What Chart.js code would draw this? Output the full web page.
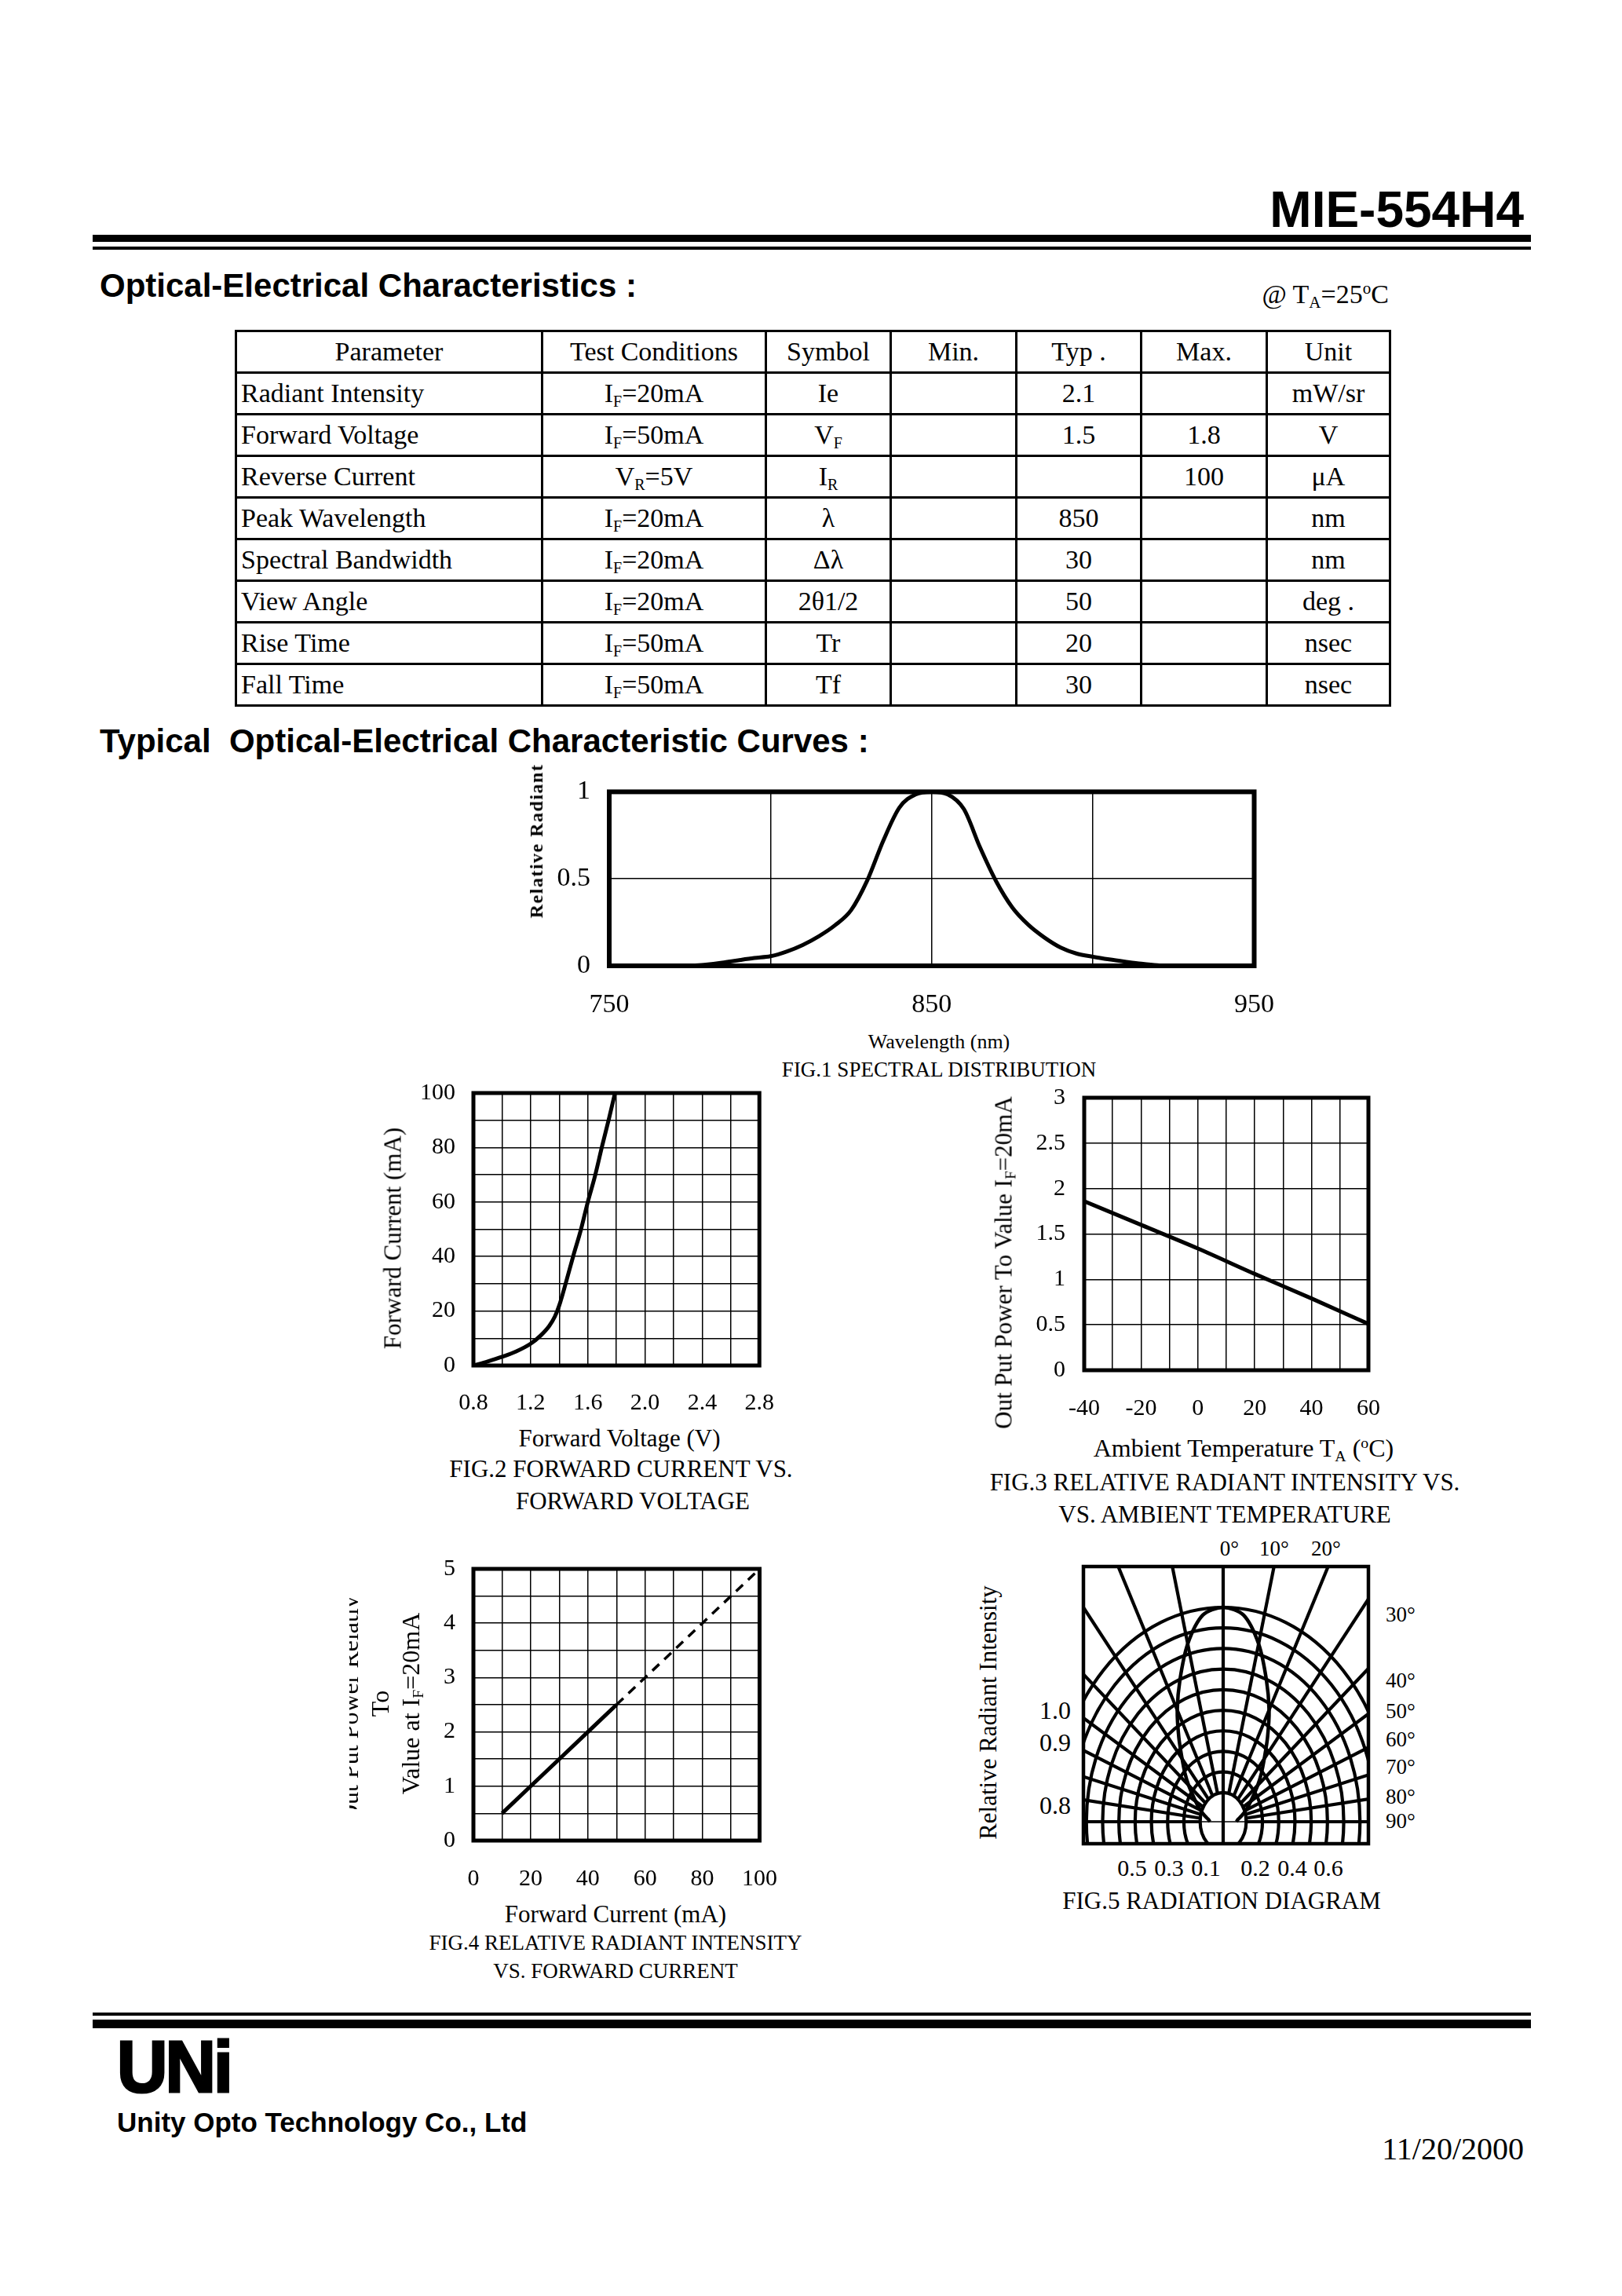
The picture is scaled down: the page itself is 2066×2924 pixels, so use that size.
<!DOCTYPE html>
<html>
<head>
<meta charset="utf-8">
<title>MIE-554H4</title>
<script src="https://cdn.jsdelivr.net/npm/chart.js@4.4.0/dist/chart.umd.min.js"></script>
<style>
body{margin:0;background:#fff;}
#page{position:relative;width:2066px;height:2924px;overflow:hidden;font-family:'Liberation Serif','Times New Roman',serif;color:#000;background:#fff;}
.t{position:absolute;white-space:nowrap;line-height:1;transform:translate(-50%,-50%);}
.t.l{transform:translate(0,-50%);}
.t.r{transform:translate(-100%,-50%);}
.t.rot{transform:translate(-50%,-50%) rotate(-90deg);}
.sans{font-family:'Liberation Sans',Arial,sans-serif;font-weight:bold;}
.bar{position:absolute;background:#000;}
canvas{position:absolute;}
sub{font-size:62%;vertical-align:-0.28em;line-height:0;}
sup{font-size:62%;vertical-align:0.55em;line-height:0;}
#spec{position:absolute;left:299px;top:420px;width:1470px;border-collapse:collapse;table-layout:fixed;font-size:34px;line-height:1;}
#spec td{border:3px solid #000;padding:0;text-align:center;white-space:nowrap;}
#spec tr{height:53px;}
#spec td:first-child{text-align:left;padding-left:5px;}
#spec tr:first-child td:first-child{text-align:center;padding-left:0;}
#spec sub{font-size:20px;}
#f4y{position:absolute;left:445px;top:2034px;width:110px;height:270px;overflow:hidden;}
#f4y div{position:absolute;left:-126px;top:77px;width:330px;height:117px;line-height:39px;font-size:32px;text-align:center;transform:rotate(-90deg);white-space:nowrap;}
#logo{left:149px;top:2632px;font-size:92px;letter-spacing:-3px;-webkit-text-stroke:3px #000;transform:translate(0,-50%) scaleX(0.97);transform-origin:left center;}
</style>
</head>
<body>
<div id="page">
  <div class="t r sans" style="left:1941px;top:267px;font-size:64px">MIE-554H4</div>
  <div class="bar" style="left:118px;top:299px;width:1832px;height:9px"></div>
  <div class="bar" style="left:118px;top:314px;width:1832px;height:4px"></div>

  <div class="t l sans" style="left:127px;top:364px;font-size:42px">Optical-Electrical Characteristics :</div>
  <div class="t r" style="left:1769px;top:375px;font-size:34px">@ T<sub>A</sub>=25<sup>o</sup>C</div>

  <table id="spec">
    <colgroup><col style="width:390px"><col style="width:285px"><col style="width:159px"><col style="width:160px"><col style="width:159px"><col style="width:160px"><col style="width:157px"></colgroup>
    <tr><td>Parameter</td><td>Test Conditions</td><td>Symbol</td><td>Min.</td><td>Typ .</td><td>Max.</td><td>Unit</td></tr>
    <tr><td>Radiant Intensity</td><td>I<sub>F</sub>=20mA</td><td>Ie</td><td></td><td>2.1</td><td></td><td>mW/sr</td></tr>
    <tr><td>Forward Voltage</td><td>I<sub>F</sub>=50mA</td><td>V<sub>F</sub></td><td></td><td>1.5</td><td>1.8</td><td>V</td></tr>
    <tr><td>Reverse Current</td><td>V<sub>R</sub>=5V</td><td>I<sub>R</sub></td><td></td><td></td><td>100</td><td>&mu;A</td></tr>
    <tr><td>Peak Wavelength</td><td>I<sub>F</sub>=20mA</td><td>&lambda;</td><td></td><td>850</td><td></td><td>nm</td></tr>
    <tr><td>Spectral Bandwidth</td><td>I<sub>F</sub>=20mA</td><td>&Delta;&lambda;</td><td></td><td>30</td><td></td><td>nm</td></tr>
    <tr><td>View Angle</td><td>I<sub>F</sub>=20mA</td><td>2&theta;1/2</td><td></td><td>50</td><td></td><td>deg .</td></tr>
    <tr><td>Rise Time</td><td>I<sub>F</sub>=50mA</td><td>Tr</td><td></td><td>20</td><td></td><td>nsec</td></tr>
    <tr><td>Fall Time</td><td>I<sub>F</sub>=50mA</td><td>Tf</td><td></td><td>30</td><td></td><td>nsec</td></tr>
  </table>

  <div class="t l sans" style="left:127px;top:944px;font-size:42px">Typical&nbsp; Optical-Electrical Characteristic Curves :</div>

  <!-- FIG.1 -->
  <canvas id="fig1"></canvas>
  <div class="t rot" style="left:683px;top:1071px;font-size:24px;font-weight:bold;letter-spacing:1.5px">Relative Radiant</div>
  <div class="t" style="left:1196px;top:1327px;font-size:26px">Wavelength (nm)</div>
  <div class="t" style="left:1196px;top:1362px;font-size:27px">FIG.1 SPECTRAL DISTRIBUTION</div>

  <!-- FIG.2 -->
  <canvas id="fig2"></canvas>
  <div class="t rot" style="left:500px;top:1577px;font-size:31px">Forward Current (mA)</div>
  <div class="t" style="left:789px;top:1831px;font-size:31px">Forward Voltage (V)</div>
  <div class="t" style="left:791px;top:1870px;font-size:31px">FIG.2 FORWARD CURRENT VS.</div>
  <div class="t" style="left:806px;top:1911px;font-size:31px">FORWARD VOLTAGE</div>

  <!-- FIG.3 -->
  <canvas id="fig3"></canvas>
  <div class="t rot" style="left:1278px;top:1608px;font-size:31px">Out Put Power To Value I<sub>F</sub>=20mA</div>
  <div class="t" style="left:1584px;top:1844px;font-size:32px">Ambient Temperature T<sub>A</sub> (<sup>o</sup>C)</div>
  <div class="t" style="left:1560px;top:1887px;font-size:31px">FIG.3 RELATIVE RADIANT INTENSITY VS.</div>
  <div class="t" style="left:1560px;top:1928px;font-size:31px">VS. AMBIENT TEMPERATURE</div>

  <!-- FIG.4 -->
  <canvas id="fig4"></canvas>
  <div id="f4y"><div>Out Put Power Relative<br>To<br>Value at I<sub>F</sub>=20mA</div></div>
  <div class="t" style="left:784px;top:2437px;font-size:31px">Forward Current (mA)</div>
  <div class="t" style="left:784px;top:2474px;font-size:27px">FIG.4 RELATIVE RADIANT INTENSITY</div>
  <div class="t" style="left:784px;top:2510px;font-size:27px">VS. FORWARD CURRENT</div>

  <!-- FIG.5 -->
  <canvas id="fig5"></canvas>
  <div class="t" style="left:1566px;top:1972px;font-size:27px">0&deg;</div>
  <div class="t" style="left:1623px;top:1972px;font-size:27px">10&deg;</div>
  <div class="t" style="left:1689px;top:1972px;font-size:27px">20&deg;</div>
  <div class="t l" style="left:1765px;top:2056px;font-size:27px">30&deg;</div>
  <div class="t l" style="left:1765px;top:2140px;font-size:27px">40&deg;</div>
  <div class="t l" style="left:1765px;top:2179px;font-size:27px">50&deg;</div>
  <div class="t l" style="left:1765px;top:2215px;font-size:27px">60&deg;</div>
  <div class="t l" style="left:1765px;top:2250px;font-size:27px">70&deg;</div>
  <div class="t l" style="left:1765px;top:2288px;font-size:27px">80&deg;</div>
  <div class="t l" style="left:1765px;top:2319px;font-size:27px">90&deg;</div>
  <div class="t r" style="left:1364px;top:2178px;font-size:32px">1.0</div>
  <div class="t r" style="left:1364px;top:2219px;font-size:32px">0.9</div>
  <div class="t r" style="left:1364px;top:2299px;font-size:32px">0.8</div>
  <div class="t" style="left:1442px;top:2379px;font-size:30px">0.5</div>
  <div class="t" style="left:1489px;top:2379px;font-size:30px">0.3</div>
  <div class="t" style="left:1536px;top:2379px;font-size:30px">0.1</div>
  <div class="t" style="left:1599px;top:2379px;font-size:30px">0.2</div>
  <div class="t" style="left:1646px;top:2379px;font-size:30px">0.4</div>
  <div class="t" style="left:1692px;top:2379px;font-size:30px">0.6</div>
  <div class="t rot" style="left:1258px;top:2181px;font-size:31px">Relative Radiant Intensity</div>
  <div class="t" style="left:1556px;top:2420px;font-size:31px">FIG.5 RADIATION DIAGRAM</div>

  <!-- footer -->
  <div class="bar" style="left:118px;top:2563px;width:1832px;height:4px"></div>
  <div class="bar" style="left:118px;top:2572px;width:1832px;height:11px"></div>
  <div id="logo" class="t l sans">UNi</div>
  <div class="t l sans" style="left:149px;top:2702px;font-size:35px">Unity Opto Technology Co., Ltd</div>
  <div class="t r" style="left:1941px;top:2737px;font-size:40px">11/20/2000</div>
</div>

<script>
// FIG.1 spectral distribution
const fig1Wavelength = [775, 780, 785, 790, 795, 800, 805, 810, 815, 820, 825, 830, 835, 840, 845, 850,
                        855, 860, 865, 870, 875, 880, 885, 890, 895, 900, 905, 910, 915, 920, 925];
const fig1Relative = [0, 0.007, 0.018, 0.032, 0.045, 0.055, 0.082, 0.12, 0.17, 0.233, 0.32, 0.49, 0.72, 0.91, 0.985, 1.0,
                      0.985, 0.9, 0.68, 0.485, 0.335, 0.235, 0.162, 0.105, 0.07, 0.052, 0.037, 0.024, 0.012, 0.003, 0];
const fig1XTicks = ['750', '850', '950'];
const fig1YTicks = ['0', '0.5', '1'];

// FIG.2 forward current vs forward voltage
const fig2Voltage = [0.8, 0.9, 1.0, 1.1, 1.2, 1.27, 1.33, 1.37, 1.4, 1.45, 1.5, 1.55, 1.6, 1.65, 1.7, 1.75, 1.79];
const fig2Current = [0, 1.5, 3.2, 5.2, 8, 11, 14.5, 18, 22, 31, 40.5, 49.5, 60, 69.5, 80.5, 91, 100];
const fig2XTicks = ['0.8', '1.2', '1.6', '2.0', '2.4', '2.8'];
const fig2YTicks = ['0', '20', '40', '60', '80', '100'];

// FIG.3 relative intensity vs ambient temperature
const fig3Temp = [-40, -20, 0, 20, 40, 60];
const fig3Power = [1.86, 1.6, 1.34, 1.06, 0.79, 0.51];
const fig3XTicks = ['-40', '-20', '0', '20', '40', '60'];
const fig3YTicks = ['0', '0.5', '1', '1.5', '2', '2.5', '3'];

// FIG.4 relative intensity vs forward current (solid = measured, dashed = extension)
const fig4CurrentSolid = [10, 20, 30, 40, 50];
const fig4PowerSolid = [0.5, 1.0, 1.5, 2.0, 2.5];
const fig4CurrentDash = [50, 60, 70, 80, 90, 100];
const fig4PowerDash = [2.5, 3.0, 3.5, 4.0, 4.5, 5.0];
const fig4XTicks = ['0', '20', '40', '60', '80', '100'];
const fig4YTicks = ['0', '1', '2', '3', '4', '5'];

// FIG.5 radiation diagram (angle in degrees, relative intensity)
const fig5Angle = [0, 5, 10, 15, 20, 25, 30, 35, 40, 50, 60, 70, 80, 90];
const fig5Intensity = [1.0, 0.97, 0.85, 0.70, 0.57, 0.45, 0.355, 0.29, 0.235, 0.155, 0.11, 0.075, 0.05, 0.04];
const fig5Rings = [0.1, 0.2, 0.3, 0.4, 0.5, 0.6, 0.7, 0.8, 0.9, 1.0];
const fig5Spokes = [0, 10, 20, 30, 40, 50, 60, 70, 80, 90];

const PAD = {l: 90, r: 40, t: 26, b: 70};

function pairs(xs, ys) {
    return xs.map(function (x, i) { return {x: x, y: ys[i]}; });
}

function fmt(v, digits) {
    return digits == null ? String(+v.toFixed(3)) : v.toFixed(digits);
}

function pickLabel(list, digits) {
    return function (v) {
        var s = fmt(v, digits);
        return list.indexOf(s) >= 0 ? s : '';
    };
}

function placeCanvas(id, box, pad) {
    var c = document.getElementById(id);
    c.width = pad.l + box.w + pad.r;
    c.height = pad.t + box.h + pad.b;
    c.style.left = (box.l - pad.l) + 'px';
    c.style.top = (box.t - pad.t) + 'px';
    c.style.width = c.width + 'px';
    c.style.height = c.height + 'px';
    return c;
}

// grow the canvas until the plot area has the wanted size, then shift it onto the box
function alignChart(chart, box) {
    for (var k = 0; k < 3; k++) {
        var a = chart.chartArea;
        var dw = box.w - (a.right - a.left), dh = box.h - (a.bottom - a.top);
        if (Math.abs(dw) < 0.5 && Math.abs(dh) < 0.5) break;
        chart.resize(Math.round(chart.width + dw), Math.round(chart.height + dh));
    }
    var b = chart.chartArea;
    chart.canvas.style.left = (box.l - b.left) + 'px';
    chart.canvas.style.top = (box.t - b.top) + 'px';
}

// thick frame round the plot area
var framePlugin = {
    id: 'frame',
    afterDatasetsDraw: function (chart, args, opts) {
        var a = chart.chartArea, ctx = chart.ctx;
        ctx.save();
        ctx.lineWidth = opts.width || 5;
        ctx.strokeStyle = '#000';
        ctx.strokeRect(a.left, a.top, a.right - a.left, a.bottom - a.top);
        ctx.restore();
    }
};

function gridChart(id, box, o) {
    var c = placeCanvas(id, box, PAD);
    var chart = new Chart(c, {
        type: 'line',
        data: {datasets: o.datasets},
        options: {
            responsive: false,
            maintainAspectRatio: false,
            animation: false,
            devicePixelRatio: 1,
            layout: {padding: {top: PAD.t, right: PAD.r, left: 0, bottom: 0}},
            plugins: {legend: {display: false}, tooltip: {enabled: false}, frame: {width: o.frame}},
            elements: {point: {radius: 0}},
            scales: {
                x: {
                    type: 'linear', min: o.x[0], max: o.x[1],
                    ticks: {stepSize: o.x[2], padding: o.xPad, font: {size: o.font}, maxRotation: 0, autoSkip: false,
                            color: '#000', callback: pickLabel(o.xLabels, o.xDigits)},
                    grid: {color: '#000', lineWidth: o.grid, drawTicks: false},
                    border: {display: false},
                    afterFit: function (s) { s.height = PAD.b; }
                },
                y: {
                    type: 'linear', min: o.y[0], max: o.y[1],
                    ticks: {stepSize: o.y[2], padding: o.yPad, font: {size: o.font}, autoSkip: false,
                            color: '#000', callback: pickLabel(o.yLabels, null)},
                    grid: {color: '#000', lineWidth: o.grid, drawTicks: false},
                    border: {display: false},
                    afterFit: function (s) { s.width = PAD.l; }
                }
            }
        },
        plugins: [framePlugin]
    });
    alignChart(chart, box);
    return chart;
}

Chart.defaults.font.family = "'Liberation Serif','Times New Roman',serif";
Chart.defaults.color = '#000';

gridChart('fig1', {l: 776, t: 1008, w: 821, h: 222}, {
    x: [750, 950, 50], y: [0, 1, 0.5], xLabels: fig1XTicks, yLabels: fig1YTicks, xDigits: null,
    font: 34, xPad: 30, yPad: 24, grid: 1.5, frame: 6,
    datasets: [{data: pairs(fig1Wavelength, fig1Relative), borderColor: '#000', borderWidth: 5,
                cubicInterpolationMode: 'monotone', fill: false}]
});

gridChart('fig2', {l: 603, t: 1392, w: 364, h: 347}, {
    x: [0.8, 2.8, 0.2], y: [0, 100, 10], xLabels: fig2XTicks, yLabels: fig2YTicks, xDigits: 1,
    font: 30, xPad: 30, yPad: 23, grid: 1.5, frame: 5,
    datasets: [{data: pairs(fig2Voltage, fig2Current), borderColor: '#000', borderWidth: 5,
                cubicInterpolationMode: 'monotone', fill: false}]
});

gridChart('fig3', {l: 1381, t: 1398, w: 362, h: 347}, {
    x: [-40, 60, 10], y: [0, 3, 0.5], xLabels: fig3XTicks, yLabels: fig3YTicks, xDigits: null,
    font: 30, xPad: 31, yPad: 24, grid: 1.5, frame: 5,
    datasets: [{data: pairs(fig3Temp, fig3Power), borderColor: '#000', borderWidth: 5,
                cubicInterpolationMode: 'monotone', fill: false}]
});

gridChart('fig4', {l: 603, t: 1998, w: 364, h: 346}, {
    x: [0, 100, 10], y: [0, 5, 0.5], xLabels: fig4XTicks, yLabels: fig4YTicks, xDigits: null,
    font: 30, xPad: 31, yPad: 23, grid: 1.5, frame: 5,
    datasets: [
        {data: pairs(fig4CurrentSolid, fig4PowerSolid), borderColor: '#000', borderWidth: 5, fill: false},
        {data: pairs(fig4CurrentDash, fig4PowerDash), borderColor: '#000', borderWidth: 3.5, borderDash: [12, 9], fill: false}
    ]
});

// ---- FIG.5 radiation diagram ----
// rings are drawn a bit narrower than tall and spokes a bit wider, as in the printed sheet
var RING_BASE = 0.04, RING_STEP = 0.96, ELL = 0.79, SPREAD = 1.13;

function ringRadius(level) { return RING_BASE + RING_STEP * level; }
function spokeAngle(deg) {
    return deg >= 90 ? Math.PI / 2 : Math.atan(SPREAD * Math.tan(deg * Math.PI / 180));
}
function ellipseDist(r, phi) {
    var s = Math.sin(phi) / ELL, c = Math.cos(phi);
    return r / Math.sqrt(s * s + c * c);
}
function lobePoint(deg, level) {
    var phi = spokeAngle(Math.abs(deg)) * (deg < 0 ? -1 : 1);
    var d = ellipseDist(ringRadius(level), phi);
    return {x: d * Math.sin(phi), y: d * Math.cos(phi)};
}

var lobe = [];
for (var i = fig5Angle.length - 1; i > 0; i--) lobe.push(lobePoint(-fig5Angle[i], fig5Intensity[i]));
for (var j = 0; j < fig5Angle.length; j++) lobe.push(lobePoint(fig5Angle[j], fig5Intensity[j]));

var polarGrid = {
    id: 'polarGrid',
    beforeDatasetsDraw: function (chart) {
        var ctx = chart.ctx, a = chart.chartArea, sx = chart.scales.x, sy = chart.scales.y;
        var ox = sx.getPixelForValue(0), oy = sy.getPixelForValue(0);
        var unit = oy - sy.getPixelForValue(1);
        ctx.save();
        ctx.beginPath();
        ctx.rect(a.left, a.top, a.right - a.left, a.bottom - a.top);
        ctx.clip();
        ctx.strokeStyle = '#000';
        ctx.lineWidth = 4.2;
        fig5Rings.forEach(function (lv) {
            var r = ringRadius(lv) * unit;
            ctx.beginPath();
            ctx.ellipse(ox, oy, r * ELL, r, 0, 0, 2 * Math.PI);
            ctx.stroke();
        });
        var r0 = ringRadius(fig5Rings[0]);
        fig5Spokes.forEach(function (deg) {
            [-1, 1].forEach(function (sgn) {
                if (deg === 0 && sgn < 0) return;
                var phi = spokeAngle(deg) * sgn;
                var s = Math.sin(phi), c = Math.cos(phi);
                var d0 = deg === 0 ? -1 : ellipseDist(r0, phi);
                ctx.beginPath();
                ctx.moveTo(ox + s * d0 * unit, oy - c * d0 * unit);
                ctx.lineTo(ox + s * 3 * unit, oy - c * 3 * unit);
                ctx.stroke();
            });
        });
        // thin cross-bar inside the LED outline
        var dh = ellipseDist(r0, Math.PI / 2) * unit;
        ctx.lineWidth = 1.5;
        ctx.beginPath();
        ctx.moveTo(ox - dh, oy);
        ctx.lineTo(ox + dh, oy);
        ctx.stroke();
        ctx.restore();
    }
};

(function () {
    var R = 273, left = 178, right = 185, up = 325, down = 28;
    var box5 = {l: 1380, t: 1995, w: left + right, h: up + down};
    var c = placeCanvas('fig5', box5, {l: 4, r: 4, t: 4, b: 4});
    var chart = new Chart(c, {
        type: 'scatter',
        data: {datasets: [{data: lobe, showLine: true, borderColor: '#000', borderWidth: 4.5, tension: 0.3,
                           pointRadius: 0, fill: false}]},
        options: {
            responsive: false, maintainAspectRatio: false, animation: false, devicePixelRatio: 1,
            layout: {padding: 4},
            plugins: {legend: {display: false}, tooltip: {enabled: false}, frame: {width: 4.5}},
            scales: {
                x: {type: 'linear', display: false, min: -left / R, max: right / R},
                y: {type: 'linear', display: false, min: -down / R, max: up / R}
            }
        },
        plugins: [polarGrid, framePlugin]
    });
    alignChart(chart, box5);
})();
</script>
</body>
</html>
